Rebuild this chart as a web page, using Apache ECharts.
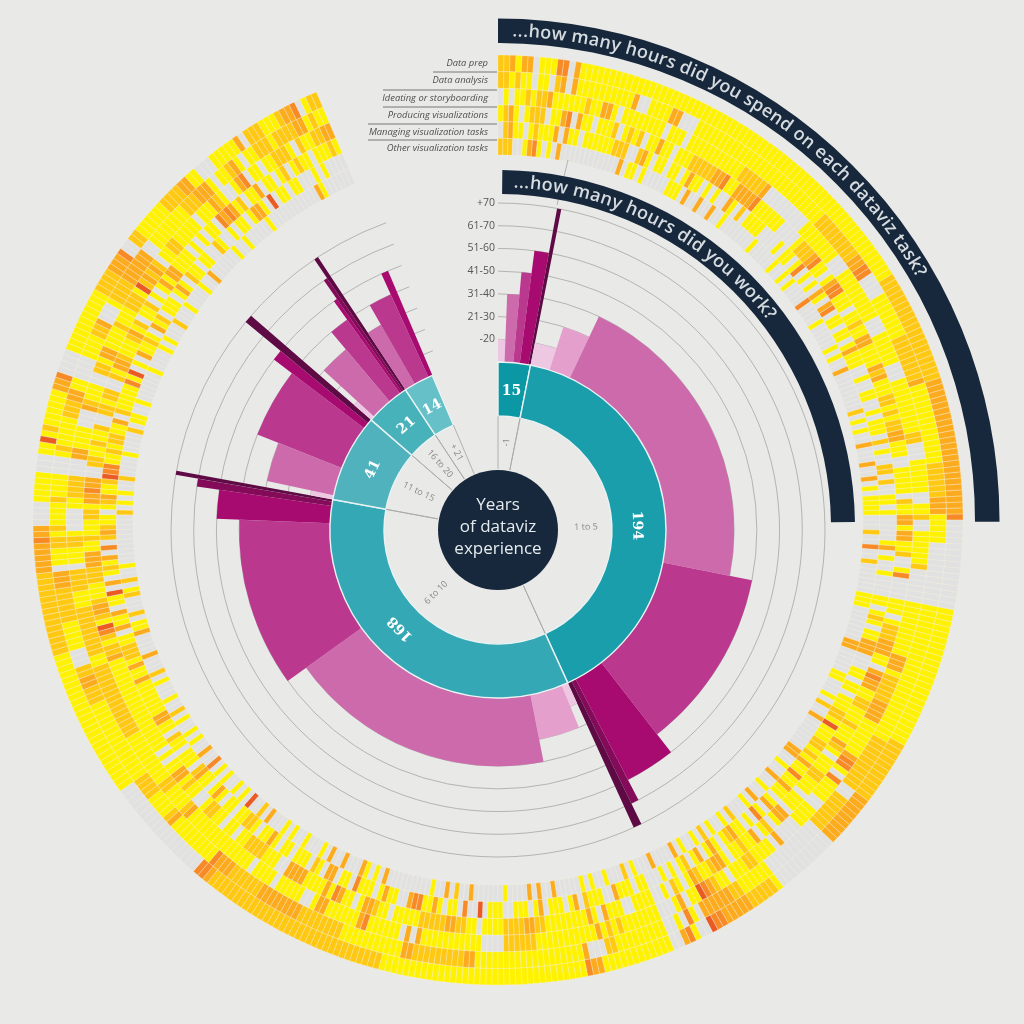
<!DOCTYPE html>
<html><head><meta charset="utf-8">
<style>html,body{margin:0;padding:0;background:#e9e9e7}#c{width:1024px;height:1024px}</style>
<script src="https://cdn.jsdelivr.net/npm/echarts@6/dist/echarts.min.js"></script>
</head><body><div id="c"></div>
<script>
const groupNames=['-1','1 to 5','6 to 10','11 to 15','16 to 20','+ 21'];
const groupCounts=[15,194,168,41,21,14];
const groupColors=['#0c97a5','#1a9eac','#35a8b6','#4fb2bd','#48b2bb','#66c0c7'];
const labelShift=[0,6.5,9,0,0,0];
const hourBins=['-20','21-30','31-40','41-50','51-60','61-70','+70'];
const hourColors=['#eec7e3','#e59fcc','#cd6aab','#bb388f','#a80b70','#840b5a','#5d0a45'];
const hours1=[3,0,4,3,4,0,1];
const hours2=[9,10,102,55,14,2,2];
const hours3=[3,15,88,51,8,2,1];
const hours4=[2,0,13,21,3,0,2];
const hours5=[2,0,10,6,1,1,1];
const hours6=[0,0,5,7,2,0,0];
const taskNames=['Data prep','Data analysis','Ideating or storyboarding','Producing visualizations','Managing visualization tasks','Other visualization tasks'];
const heatColors=['#e1e1e1','#fff200','#ffc813','#fdab1e','#f78a26','#ea5a25'];
// heat cells, 30 respondents per block; rows run from the outer ring to the inner ring
const seg00=["223133011144031111111111111111","221211011023031111111111300111","010112122311111121133101111111","123101222011340311011120121201","023110121113031101111112220023","222001341010300000000000030110"];
const seg01=["111111111111111111111111111111","133000111111111111111111111111","101110111111111112222230000000","131101112222233411333341111110","101101101311010100310201111000","100000111030030030010000000100"];
const seg02=["111111111111111111222222222222","111222222222334400001111111122","001111111100011111111110001111","000122234110134411101121133111","010110140101031034011011013111","000100101000040000100000101003"];
const seg03=["222222233333333333333333333333","222222311111111111111222222333","110001111111111220001111110011","132311122121223311100111110211","001001100101110201002202001101","000000002010100300030030101111"];
const seg04=["400000000000000011111111111111","111110000000000011111111111111","200111111200000011111111113331","331331120014000011101222333110","000001301001000011012101133300","000200400200000011100000003300"];
const seg05=["111111111122222222222333333333","111111111112222222222002222222","222223333111111134410411110011","343311221112111321011122111011","011011011122151112212131141131","000110001020030000000330010030"];
const seg06=["000000000001222223333344500143","000000000001111112233333301401","110000301111221110112345110310","103310210311211013321123101201","101301401011321013103102101010","010030100020100102010010300003"];
const seg07=["001111111111113341111111111111","001111111112200031111111111111","001111111212131111111111122222","001111001113013111111112233222","001101113001112031011103101110","000102000100101000003003030000"];
const seg08=["111111111111111111111122222222","111111332222222223311111111111","200001111111111130301111114311","211110112233222221111101123310","011105004011013114430011310111","100000030020300100000000030101"];
const seg09=["222222222222222222222222344000","222222223333333322222233341111","111133100111110111101111111111","113413111133330011122221101101","401103301201110110131101221101","300030030100010010100030200501"];
const seg10=["000000000000000111111111111111","111113211112222111111111111111","111132111122111111111122222222","122100112133110101111111111111","101310113201110112011331111111","010010104003001010010200100010"];
const seg11=["111111111122222222222222333334","222332200011111222222333011122","222222112222222221112222011122","111111322124512332111222333112","311312221103113011503012130402","200030000311020002102001000000"];
const seg12=["330000111110001151211111133400","121111211110001211111222331100","100001122220003311110003211100","111221334330022112112002212200","321101231125441121221130211111","000020101002000010000201100100"];
const seg13=["001111111111122223334002211111","001111223000122223333330011111","221331111211122215232320112211","213321112312011201013133111101","415010311210312011101310211011","000010000101000200010000100300"];
const seg14=["122223311000111113022211123340","111222333101123101122212222331","111011132100134011011222102112","010110434312011301101201211011","002100101101331050110110001010","000010010000010000000000031000"];
const seg15=["122","211","233","121","000","000"];
const heatBlocks=[seg00,seg01,seg02,seg03,seg04,seg05,seg06,seg07,seg08,seg09,seg10,seg11,seg12,seg13,seg14,seg15];

const hoursByGroup=[hours1,hours2,hours3,hours4,hours5,hours6];
const total=groupCounts.reduce((a,b)=>a+b,0);
const SPAN=337;                        // degrees covered by all respondents
const angleMax=total*360/SPAN;

const heatData=[];
heatBlocks.forEach((blk,b)=>blk.forEach((row,i)=>{
  const len=b<15?30:3;
  for(let k=0;k<len;k++) heatData.push([b*30+k,5-i,+(row[k]||0)]);
}));

const barData=[];const groupData=[];
let pos=0;
groupCounts.forEach((n,g)=>{
  groupData.push([pos,n,g]);
  let p=pos;
  hoursByGroup[g].forEach((c,l)=>{if(c>0){barData.push([p,c,l+1]);p+=c;}});
  pos+=n;
});

function sector(api,cs,rA,rB,uA,uB,style){
  const a=api.coord([rA,uA]),b=api.coord([rB,uB]);
  return {type:'sector',shape:{cx:cs.cx,cy:cs.cy,r0:a[2],r:b[2],startAngle:-a[3],endAngle:-b[3],clockwise:true},style};
}
const angleAxes=[0,1,2].map(i=>({polarIndex:i,type:'value',min:0,max:angleMax,startAngle:90,clockwise:true,show:false}));
const hidden={show:false};

const series=[
 {type:'custom',coordinateSystem:'polar',polarIndex:0,data:heatData,progressive:0,silent:true,z:1,
  renderItem(p,api){
    const u=api.value(0),ring=api.value(1),lvl=api.value(2);
    return sector(api,p.coordSys,ring,ring+1,u,u+1,{fill:heatColors[lvl],stroke:'#f3f1d8',lineWidth:0.35,opacity:1});
  }},
 {type:'custom',coordinateSystem:'polar',polarIndex:1,data:hourBins.map((h,i)=>[i+1]),silent:true,z:2,
  renderItem(p,api){
    const lv=api.value(0),cs=p.coordSys,a=api.coord([lv,0]),b=api.coord([lv,total+4]);
    return {type:'arc',shape:{cx:cs.cx,cy:cs.cy,r:a[2],startAngle:-a[3],endAngle:-b[3],clockwise:true},
      style:{fill:null,stroke:'#b4b4b2',lineWidth:1}};
  }},
 {type:'custom',coordinateSystem:'polar',polarIndex:1,data:barData,silent:true,z:3,
  renderItem(p,api){
    const u=api.value(0),c=api.value(1),l=api.value(2);
    return sector(api,p.coordSys,0,l,u,u+c,{fill:hourColors[l-1]});
  }},
 {type:'custom',coordinateSystem:'polar',polarIndex:2,data:groupData,silent:true,z:4,
  renderItem(p,api){
    const u=api.value(0),n=api.value(1),g=api.value(2),cs=p.coordSys;
    const mid=u+n/2+labelShift[g],m=api.coord([1.46,mid]),t=api.coord([0.52,mid]);
    const deg=(mid/total)*SPAN;
    const A=api.coord([0.02,u]),B=api.coord([1,u]),C=api.coord([1,u+n]),D=api.coord([0.02,u+n]);
    const kids=[
      sector(api,cs,1,2,u,u+n,{fill:groupColors[g],stroke:'#e9f3f3',lineWidth:1.4}),
      {type:'line',shape:{x1:A[0],y1:A[1],x2:B[0],y2:B[1]},style:{stroke:'#a9a9a7',lineWidth:0.9}},
      {type:'line',shape:{x1:D[0],y1:D[1],x2:C[0],y2:C[1]},style:{stroke:'#a9a9a7',lineWidth:0.9}},
      {type:'text',x:m[0],y:m[1],rotation:g===0?0:-deg*Math.PI/180,
        style:{text:String(n),fill:'#fff',font:'bold 14px "DejaVu Serif"',align:'center',verticalAlign:'middle'}},
    ];
    const rd=deg>180?(270-deg):(90-deg);
    kids.push({type:'text',x:t[0],y:t[1],rotation:rd*Math.PI/180,
      style:{text:groupNames[g],fill:'#8a8a88',font:'9px "Open Sans"',align:'center',verticalAlign:'middle'}});
    return {type:'group',children:kids};
  }}
];

// curved banner captions
const mc=document.createElement('canvas').getContext('2d');
function curved(text,cx,cy,R,a0,a1,px){
  const font='600 '+px+'px "Open Sans"';mc.font=font;
  const ws=[...text].map(c=>mc.measureText(c).width);
  const sum=ws.reduce((a,b)=>a+b,0);
  const arc=(a1-a0)*Math.PI/180*R;
  const sp=(arc-sum)/(text.length-1);
  let s=0;const out=[];
  [...text].forEach((c,i)=>{
    const th=a0*Math.PI/180+(s+ws[i]/2)/R;
    s+=ws[i]+sp;
    if(c===' ')return;
    out.push({type:'text',x:cx+R*Math.sin(th),y:cy-R*Math.cos(th),rotation:-th,z:20,
      style:{text:c,fill:'#d5dbde',font,align:'center',verticalAlign:'middle'}});
  });
  return out;
}
const rad=d=>(d-90)*Math.PI/180;
const taskRows=[63,80,98,115,132,148];
const ruleRows=[[72,433],[90,383],[107,383],[124,368],[140,368]];
const graphic=[
 {type:'sector',z:10,shape:{cx:498,cy:520,r0:477,r:501.5,startAngle:rad(0),endAngle:rad(90.2)},style:{fill:'#17283c'}},
 {type:'sector',z:10,shape:{cx:498,cy:527,r0:333,r:357,startAngle:rad(0.7),endAngle:rad(89.2)},style:{fill:'#17283c'}},
 ...curved('...how many hours did you spend on each dataviz task?',498,520,489,1.7,60,18),
 ...curved('...how many hours did you work?',498,527,345,2.6,52.6,18),
 {type:'circle',z:10,shape:{cx:498,cy:530,r:60},style:{fill:'#17283c'}},
 {type:'text',z:11,x:498,y:527,style:{text:'Years\nof dataviz\nexperience',fill:'#e6ebee',font:'17px "Open Sans"',lineHeight:22,align:'center',verticalAlign:'middle'}},
 {type:'line',z:9,shape:{x1:557,y1:205,x2:568,y2:160},style:{stroke:'#b4b4b2',lineWidth:1}},
 ...taskNames.map((t,i)=>({type:'text',z:11,x:488,y:taskRows[i],style:{text:t,fill:'#4d4d4d',font:'italic 9.4px "Open Sans"',align:'right',verticalAlign:'middle'}})),
 ...ruleRows.map(r=>({type:'line',z:11,shape:{x1:r[1],y1:r[0],x2:497,y2:r[0]},style:{stroke:'#6a6a6a',lineWidth:0.9}})),
];

const chart=echarts.init(document.getElementById('c'),null,{renderer:'canvas',width:1024,height:1024});
chart.setOption({
  animation:false,backgroundColor:'#e9e9e7',
  polar:[{center:[498,520],radius:[365,465]},{center:[498,530],radius:[168,327]},{center:[498,530],radius:[60,168]}],
  angleAxis:angleAxes,
  radiusAxis:[
    {polarIndex:0,type:'value',min:0,max:6,show:false,axisLine:hidden,axisTick:hidden,axisLabel:hidden,splitLine:hidden},
    {polarIndex:1,type:'value',min:0,max:7,interval:1,axisLine:hidden,axisTick:hidden,splitLine:hidden,z:8,
      axisLabel:{show:true,margin:3,color:'#555',fontSize:10.5,fontFamily:'Open Sans',formatter:v=>v>0?hourBins[v-1]:''}},
    {polarIndex:2,type:'value',min:0,max:2,show:false,axisLine:hidden,axisTick:hidden,axisLabel:hidden,splitLine:hidden}
  ],
  series,graphic
});
</script></body></html>
